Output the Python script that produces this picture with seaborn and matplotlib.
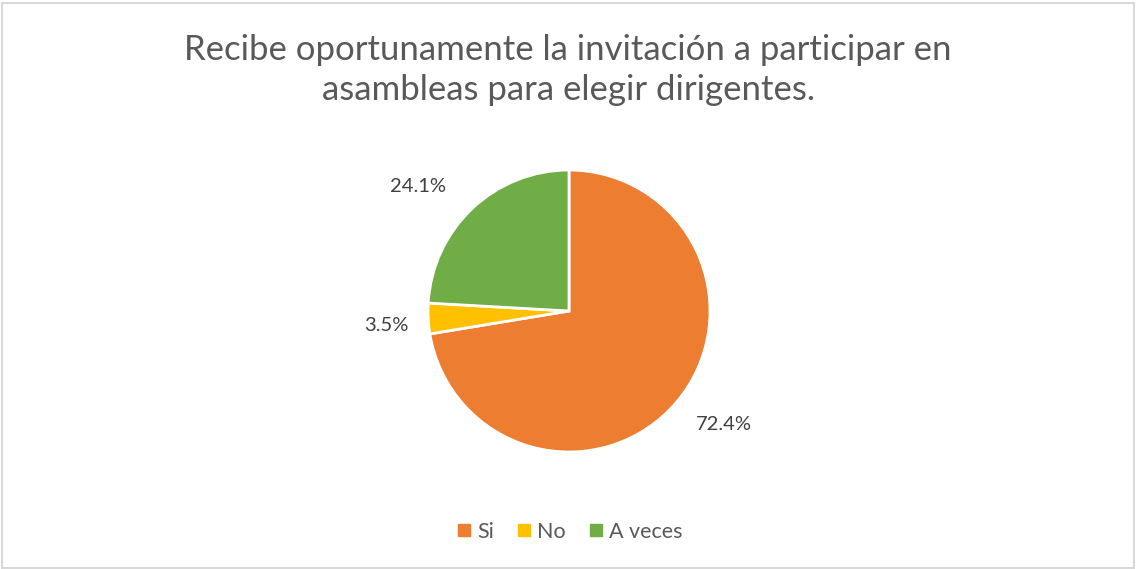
import matplotlib
matplotlib.use("Agg")
import matplotlib.pyplot as plt
import seaborn as sns
import numpy as np
from matplotlib.patches import Rectangle
from matplotlib.lines import Line2D

categories = ["Si", "No", "A veces"]
values = [72.4, 3.5, 24.1]
labels = ["72.4%", "3.5%", "24.1%"]
title = "Recibe oportunamente la invitación a participar en\nasambleas para elegir dirigentes."

sns.set_theme(style="white")
plt.rcParams['font.family'] = ['Lato', 'DejaVu Sans']
colors = sns.color_palette(["#ED7D31", "#FFC000", "#70AD47"])

W, H = 1136, 569
fig = plt.figure(figsize=(W / 100, H / 100), dpi=100)
fig.patch.set_facecolor("white")

cx, cy, r = 569, 311, 141
ax = fig.add_axes([(cx - r) / W, (H - cy - r) / H, 2 * r / W, 2 * r / H])
wedges, texts = ax.pie(values, colors=colors, startangle=90, counterclock=False,
                       radius=1.0, wedgeprops=dict(edgecolor="white", linewidth=2))
dists = [1.36, 1.30, 1.40]
offsets = [(9, 11), (0, -5), (-15, -19)]
for w, lab, d, off in zip(wedges, labels, dists, offsets):
    ang = np.deg2rad((w.theta1 + w.theta2) / 2)
    ax.annotate(lab, (d * np.cos(ang), d * np.sin(ang)), xytext=off,
                textcoords="offset pixels", ha="center", va="center",
                fontsize=14.5, color="#404040", annotation_clip=False)
ax.set_xlim(-1, 1)
ax.set_ylim(-1, 1)
ax.set_aspect("equal")
ax.axis("off")

fig.text(0.5, (H - 70) / H, title, ha="center", va="center", fontsize=25,
         color="#595959", linespacing=1.3)

handles = [Line2D([0], [0], marker="s", linestyle="", markersize=8,
                  markerfacecolor=c, markeredgecolor=c) for c in colors]
fig.legend(handles, categories, loc="center", bbox_to_anchor=(0.5, (H - 532) / H),
           ncol=3, frameon=False, fontsize=15.5, handletextpad=0.1, columnspacing=0.9,
           labelcolor="#595959", handlelength=1.0)

fig.add_artist(Rectangle((1.5 / W, 1.5 / H), (W - 4) / W, (H - 4) / H,
                         transform=fig.transFigure, fill=False,
                         edgecolor="#D9D9D9", linewidth=1.5))

fig.savefig("out.png", dpi=100, facecolor="white")
